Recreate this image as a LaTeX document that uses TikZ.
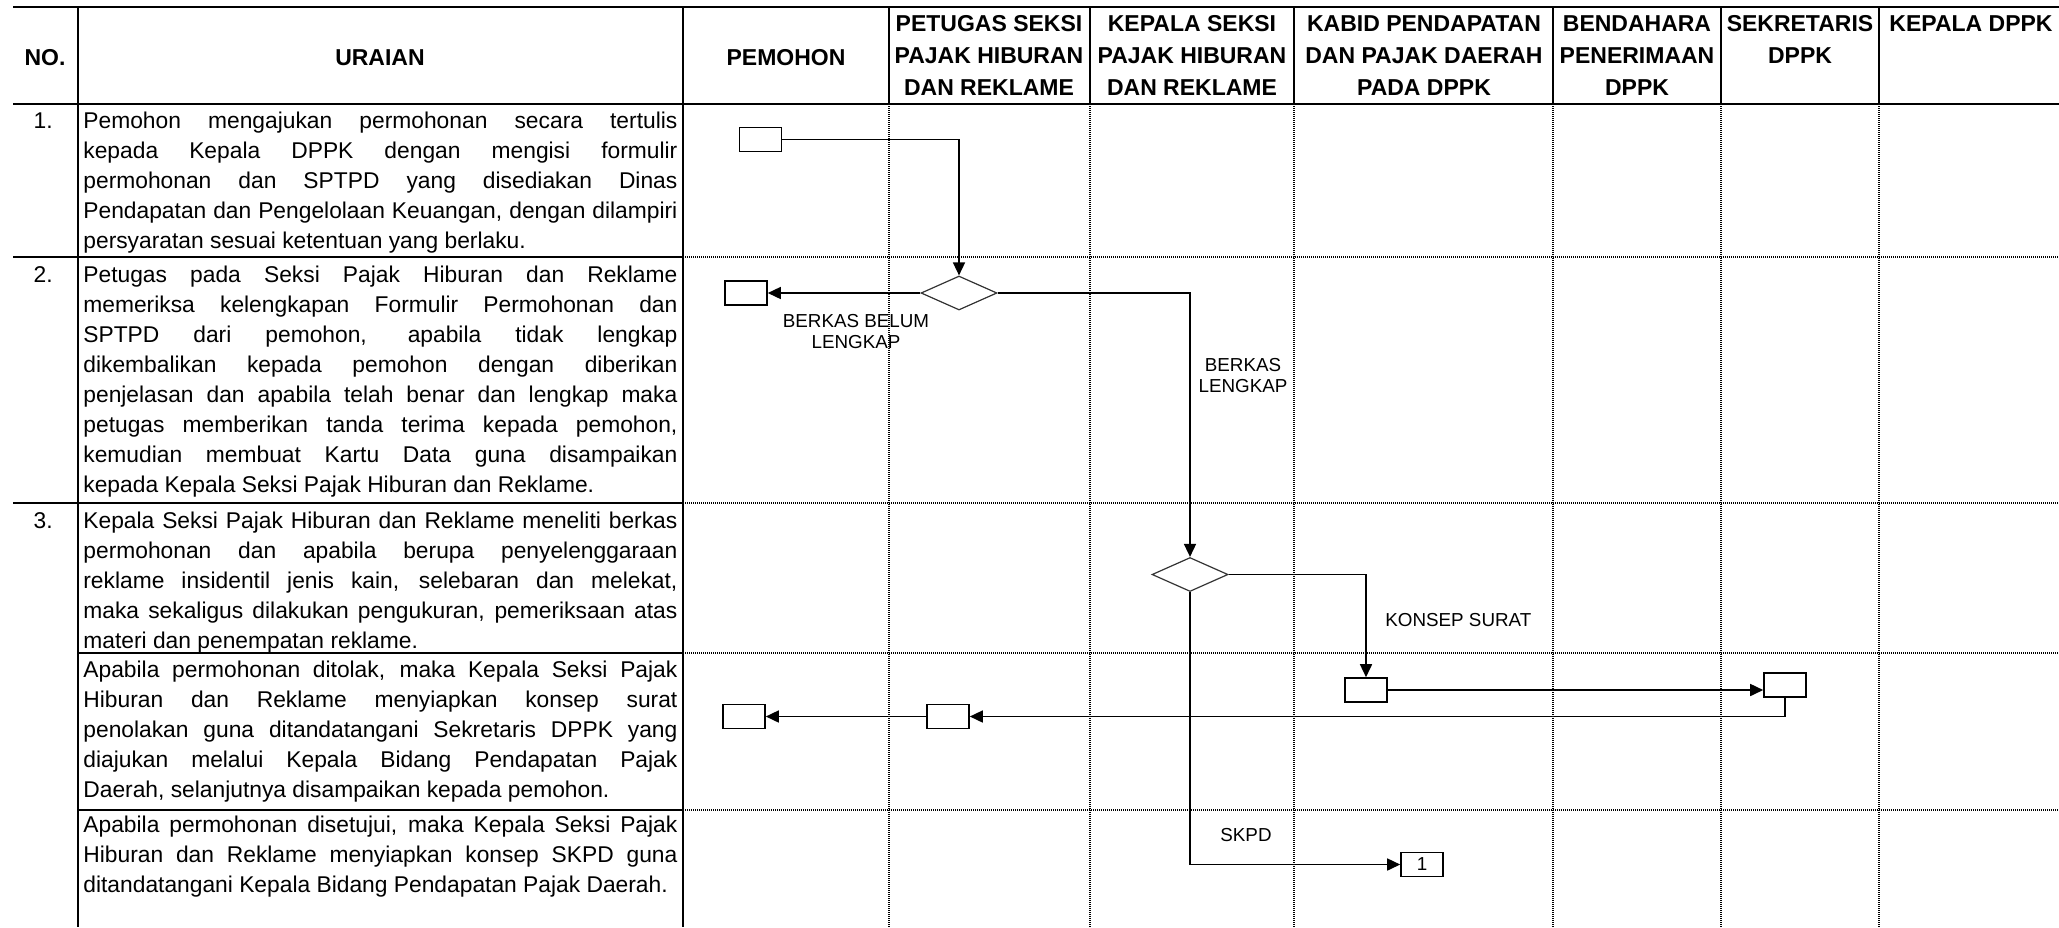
\documentclass[tikz,border=0pt]{standalone}
\usepackage{fontspec}
\setmainfont{Liberation Sans}
\usetikzlibrary{shapes.geometric,arrows.meta}
\newcommand\BodyF{\fontsize{11.4}{15}\selectfont}
\newcommand\HdrF{\bfseries\fontsize{11.5}{16}\selectfont}
\newcommand\LblF{\fontsize{9.4}{10.5}\selectfont}
\newcommand\JLine[1]{\makebox[297pt][s]{#1}}
\newcommand\FirstStrut{\rule{0pt}{9pt}}
\tikzset{
  tline/.style={line width=0.8pt},
  dline/.style={line width=0.55pt, dash pattern=on 0.5pt off 0.5pt},
  hdr/.style={font=\HdrF, align=center, inner sep=0},
  para/.style={anchor=north west, inner sep=0, align=left, font=\BodyF},
  num/.style={anchor=base east, inner sep=0, font=\BodyF},
  proc/.style={draw, line width=0.8pt, minimum width=21pt, minimum height=12pt, inner sep=0},
  dec/.style={draw=black!80, diamond, line width=0.6pt, minimum width=38pt, minimum height=17pt, inner sep=0},
  arr/.style={line width=0.8pt, -{Triangle[length=6.5pt,width=6pt]}},
  lbl/.style={font=\LblF, align=center, inner sep=0},
}
\begin{document}
\begin{tikzpicture}[x=0.5pt,y=-0.5pt]
\useasboundingbox (0,0) rectangle (2059,927);
% ---- table grid ----
\draw[tline] (13,7) -- (2059,7);
\draw[tline] (13,104) -- (2059,104);
\draw[tline] (78,7) -- (78,927);
\draw[tline] (683,7) -- (683,927);
\foreach \x in {889,1090,1294,1553,1721,1879} \draw[tline] (\x,7) -- (\x,104);
\draw[tline] (13,257) -- (683,257);
\draw[tline] (13,503) -- (683,503);
\draw[tline] (78,653) -- (683,653);
\draw[tline] (78,810) -- (683,810);
\foreach \x in {889,1090,1294,1553,1721,1879} \draw[dline] (\x,104) -- (\x,927);
\foreach \y in {257,503,653,810} \draw[dline] (683,\y) -- (2059,\y);
% ---- header ----
\node[hdr] (hno) at (45,58) {NO.};
\node[hdr] (hur) at (380,58) {URAIAN};
\node[hdr] (hpm) at (786,58) {PEMOHON};
\node[hdr] (hpt) at (989,55.5) {PETUGAS SEKSI\\PAJAK HIBURAN\\DAN REKLAME};
\node[hdr] (hks) at (1192,55.5) {KEPALA SEKSI\\PAJAK HIBURAN\\DAN REKLAME};
\node[hdr] (hkb) at (1424,55.5) {KABID PENDAPATAN\\DAN PAJAK DAERAH\\PADA DPPK};
\node[hdr] (hbd) at (1637,55.5) {BENDAHARA\\PENERIMAAN\\DPPK};
\node[hdr] (hsk) at (1800,39.5) {SEKRETARIS\\DPPK};
\node[hdr] (hkd) at (1971,23.5) {KEPALA DPPK};
% ---- numbers ----
\node[num] (n1) at (53,128) {1.};
\node[num] (n2) at (53,282) {2.};
\node[num] (n3) at (53,528) {3.};
% ---- descriptions ----
\node[para] (t1) at (83,110) {\FirstStrut\JLine{Pemohon mengajukan permohonan secara tertulis}\\
\JLine{kepada Kepala DPPK dengan mengisi formulir}\\
\JLine{permohonan dan SPTPD yang disediakan Dinas}\\
\JLine{Pendapatan dan Pengelolaan Keuangan, dengan dilampiri}\\
persyaratan sesuai ketentuan yang berlaku.};
\node[para] (t2) at (83,264) {\FirstStrut\JLine{Petugas pada Seksi Pajak Hiburan dan Reklame}\\
\JLine{memeriksa kelengkapan Formulir Permohonan dan}\\
\JLine{SPTPD dari pemohon, apabila tidak lengkap}\\
\JLine{dikembalikan kepada pemohon dengan diberikan}\\
\JLine{penjelasan dan apabila telah benar dan lengkap maka}\\
\JLine{petugas memberikan tanda terima kepada pemohon,}\\
\JLine{kemudian membuat Kartu Data guna disampaikan}\\
kepada Kepala Seksi Pajak Hiburan dan Reklame.};
\node[para] (t3) at (83,510) {\FirstStrut\JLine{Kepala Seksi Pajak Hiburan dan Reklame meneliti berkas}\\
\JLine{permohonan dan apabila berupa penyelenggaraan}\\
\JLine{reklame insidentil jenis kain, selebaran dan melekat,}\\
\JLine{maka sekaligus dilakukan pengukuran, pemeriksaan atas}\\
materi dan penempatan reklame.};
\node[para] (t4) at (83,659) {\FirstStrut\JLine{Apabila permohonan ditolak, maka Kepala Seksi Pajak}\\
\JLine{Hiburan dan Reklame menyiapkan konsep surat}\\
\JLine{penolakan guna ditandatangani Sekretaris DPPK yang}\\
\JLine{diajukan melalui Kepala Bidang Pendapatan Pajak}\\
Daerah, selanjutnya disampaikan kepada pemohon.};
\node[para] (t5) at (83,814) {\FirstStrut\JLine{Apabila permohonan disetujui, maka Kepala Seksi Pajak}\\
\JLine{Hiburan dan Reklame menyiapkan konsep SKPD guna}\\
ditandatangani Kepala Bidang Pendapatan Pajak Daerah.};
% ---- flow shapes ----
\node[proc] (p1) at (760.5,139.5) {};
\node[proc] (p2) at (746,293) {};
\node[dec] (d1) at (959,293) {};
\node[dec] (d2) at (1190,574.5) {};
\node[proc] (kb) at (1366,690) {};
\node[proc] (sk) at (1785,685) {};
\node[proc] (pt) at (948,716.5) {};
\node[proc] (p3) at (744,716.5) {};
\node[proc, font=\LblF] (one) at (1422,864.5) {1};
% ---- connectors ----
\draw[arr] (p1.east) -| (d1.north);
\draw[arr] (d1.west) -- (p2.east);
\draw[arr] (d1.east) -| (d2.north);
\draw[arr] (d2.east) -| (kb.north);
\draw[arr] (kb.east) -- (kb.east -| sk.west);
\draw[arr] (sk.south) |- (pt.east);
\draw[arr] (pt.west) -- (p3.east);
\draw[arr] (d2.south) |- (one.west);
% ---- labels ----
\node[lbl] (lb1) at (856,332) {BERKAS BELUM\\LENGKAP};
\node[lbl] (lb2) at (1243,375.5) {BERKAS\\LENGKAP};
\node[lbl, anchor=west] (lb3) at (1385,620) {KONSEP SURAT};
\node[lbl, anchor=west] (lb4) at (1220,835) {SKPD};
\end{tikzpicture}
\end{document}
